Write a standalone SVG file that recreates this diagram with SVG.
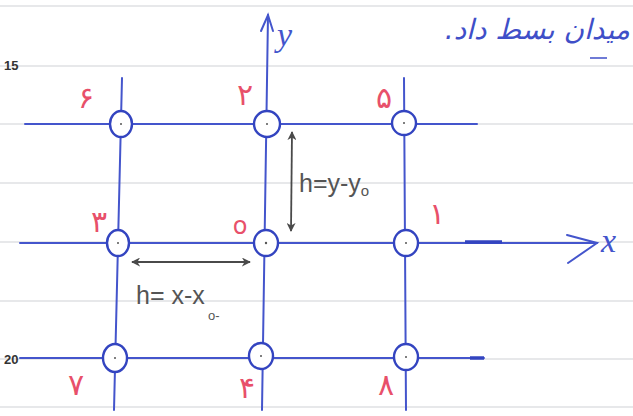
<svg xmlns="http://www.w3.org/2000/svg" width="633" height="416" viewBox="0 0 633 416">
<defs>
<style>
.rule{stroke:#cfd2d6;stroke-width:1.2}
.grid{stroke:#4455cc;stroke-width:2;fill:none;stroke-linecap:round}
.node ellipse{fill:#ffffff;stroke:#3344c0;stroke-width:2.4}
.node circle{fill:#555}
.lbl{fill:#e8506a;font-family:"DejaVu Sans",sans-serif;font-size:30px;text-anchor:middle}
.dim{stroke:#4a4a4a;stroke-width:1.8;fill:none}
.dimtxt{fill:#555;font-family:"Liberation Sans",sans-serif;font-size:25px}
.ax{fill:#4455cc;font-family:"Liberation Serif",serif;font-style:italic;font-size:34px}
.margin{fill:#333;font-family:"Liberation Sans",sans-serif;font-size:13px;font-weight:bold}
</style>
<marker id="ah" viewBox="0 0 10 10" refX="9" refY="5" markerWidth="9" markerHeight="9" orient="auto-start-reverse" markerUnits="userSpaceOnUse">
<path d="M0,0 L10,5 L0,10 L3,5 Z" fill="#4a4a4a"/>
</marker>
</defs>
<rect width="633" height="416" fill="#ffffff"/>
<g id="ruled-paper">
<line class="rule" x1="0" y1="6" x2="633" y2="6"/>
<line class="rule" x1="0" y1="66" x2="633" y2="66"/>
<line class="rule" x1="0" y1="124" x2="633" y2="124"/>
<line class="rule" x1="0" y1="183" x2="633" y2="183"/>
<line class="rule" x1="0" y1="242" x2="633" y2="242"/>
<line class="rule" x1="0" y1="301" x2="633" y2="301"/>
<line class="rule" x1="0" y1="359" x2="633" y2="359"/>
<line class="rule" x1="0" y1="407" x2="633" y2="407"/>
<text class="margin" x="4" y="70">15</text>
<text class="margin" x="4" y="364">20</text>
</g>
<g id="heading">
<text x="630" y="39" direction="rtl" unicode-bidi="embed" text-anchor="start" fill="#3f4fc8" font-family="DejaVu Sans, sans-serif" font-size="28" font-style="italic">میدان بسط داد.</text>
<line x1="590" y1="58" x2="607" y2="58" stroke="#3f4fc8" stroke-width="1.5"/>
</g>
<g id="connectors">
<line class="grid" x1="25" y1="124" x2="477" y2="124"/>
<line class="grid" x1="20" y1="243" x2="597" y2="243"/>
<line class="grid" x1="20" y1="358" x2="484" y2="358"/>
<line x1="465" y1="242" x2="502" y2="242" stroke="#3344c0" stroke-width="3.5"/>
<line x1="470" y1="358" x2="484" y2="358" stroke="#3344c0" stroke-width="3.5"/>
<polyline class="grid" points="567,235 597,243 568,263"/>
<line class="grid" x1="122" y1="78" x2="114" y2="410"/>
<line class="grid" x1="268" y1="15" x2="262" y2="410"/>
<polyline class="grid" points="261,31 268,15 273,31"/>
<line class="grid" x1="404" y1="78" x2="406" y2="410"/>
</g>
<g id="axis-labels">
<text class="ax" x="277" y="46">y</text>
<text class="ax" x="601" y="252">x</text>
</g>
<g id="node-6" class="node"><ellipse cx="121" cy="124" rx="11" ry="13"/><circle cx="121" cy="124" r="1"/><text class="lbl" x="86" y="108">۶</text></g>
<g id="node-2" class="node"><ellipse cx="267" cy="124" rx="13" ry="13"/><circle cx="267" cy="124" r="1"/><text class="lbl" x="245" y="105">۲</text></g>
<g id="node-5" class="node"><ellipse cx="404" cy="123" rx="12" ry="12"/><circle cx="404" cy="123" r="1"/><text class="lbl" x="384" y="108">۵</text></g>
<g id="node-3" class="node"><ellipse cx="118" cy="243" rx="11" ry="13"/><circle cx="118" cy="243" r="1"/><text class="lbl" x="99" y="232">۳</text></g>
<g id="node-0" class="node"><ellipse cx="266" cy="243" rx="12" ry="13"/><circle cx="266" cy="243" r="1.2"/><text class="lbl" x="240" y="234" style="font-size:24px">o</text></g>
<g id="node-1" class="node"><ellipse cx="406" cy="243" rx="12" ry="13"/><circle cx="406" cy="243" r="1"/><text class="lbl" x="437" y="224">۱</text></g>
<g id="node-7" class="node"><ellipse cx="115" cy="358" rx="12" ry="14"/><circle cx="115" cy="358" r="1"/><text class="lbl" x="76" y="395">۷</text></g>
<g id="node-4" class="node"><ellipse cx="261" cy="356" rx="12" ry="13"/><circle cx="261" cy="356" r="1"/><text class="lbl" x="247" y="398">۴</text></g>
<g id="node-8" class="node"><ellipse cx="406" cy="357" rx="12" ry="13"/><circle cx="406" cy="357" r="1"/><text class="lbl" x="386" y="395">۸</text></g>
<g id="dimensions">
<line class="dim" x1="292" y1="132" x2="291" y2="231" marker-start="url(#ah)" marker-end="url(#ah)"/>
<text class="dimtxt" x="299" y="192">h=y-y<tspan style="font-size:15px" dy="4">o</tspan></text>
<line class="dim" x1="132" y1="262" x2="250" y2="262" marker-start="url(#ah)" marker-end="url(#ah)"/>
<text class="dimtxt" x="136" y="304">h= x-x</text>
<text class="dimtxt" x="208" y="320" style="font-size:13px">o-</text>
</g>
</svg>
